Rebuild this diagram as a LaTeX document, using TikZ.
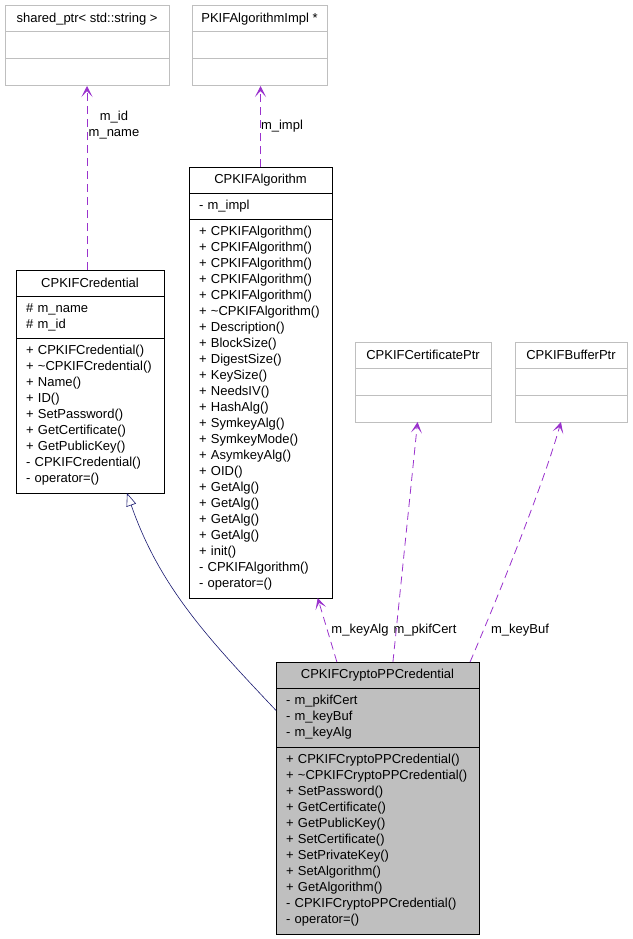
\documentclass[tikz,border=0pt]{standalone}
\usepackage{fontspec}
\setmainfont{Liberation Sans}
\usetikzlibrary{positioning,arrows.meta,calc}
\definecolor{edgepurple}{HTML}{9A32CD}
\definecolor{edgenavy}{HTML}{191970}
\definecolor{boxgray}{HTML}{BFBFBF}

\begin{document}
\begin{tikzpicture}[x=1pt, y=-1pt,
    every node/.style={font=\fontsize{13}{16}\selectfont, outer sep=0pt},
    title/.style={draw, line width=1pt, minimum width=#1, minimum height=26pt,
      inner sep=0pt, anchor=north west},
    part/.style 2 args={draw, line width=1pt, minimum width=#1, text width={#1-20pt},
      minimum height=#2, inner xsep=10pt, inner ysep=0pt, align=left},
    empty/.style={draw=boxgray},
    member/.style={edgepurple, line width=0.8pt, dash pattern=on 8pt off 5pt,
      -{Stealth[length=11pt, width=11pt, inset=6pt]}},
    inherit/.style={edgenavy, line width=0.6pt,
      -{Triangle[open, length=13pt, width=10pt, fill=white]}}]
  \useasboundingbox (0,0) rectangle (632,939);

  % classes without members
  \node[title=164pt, empty] (sptr) at (5,6) {shared\_ptr< std::string >};
  \node[part={164pt}{27pt}, empty, below=0pt of sptr] (sptrAttr) {};
  \node[part={164pt}{27pt}, empty, below=0pt of sptrAttr] (sptrOps) {};

  \node[title=135pt, empty] (impl) at (192,6) {PKIFAlgorithmImpl *};
  \node[part={135pt}{27pt}, empty, below=0pt of impl] (implAttr) {};
  \node[part={135pt}{27pt}, empty, below=0pt of implAttr] (implOps) {};

  \node[title=136pt, empty] (certp) at (355,342) {CPKIFCertificatePtr};
  \node[part={136pt}{27pt}, empty, below=0pt of certp] (certpAttr) {};
  \node[part={136pt}{27pt}, empty, below=0pt of certpAttr] (certpOps) {};

  \node[title=112pt, empty] (bufp) at (515,342) {CPKIFBufferPtr};
  \node[part={112pt}{27pt}, empty, below=0pt of bufp] (bufpAttr) {};
  \node[part={112pt}{27pt}, empty, below=0pt of bufpAttr] (bufpOps) {};

  % CPKIFAlgorithm
  \node[title=143pt] (alg) at (189,167) {CPKIFAlgorithm};
  \node[part={143pt}{26pt}, below=0pt of alg] (algAttr) {- m\_impl};
  \node[part={143pt}{379pt}, below=0pt of algAttr] (algOps) {+ CPKIFAlgorithm()\\
    + CPKIFAlgorithm()\\+ CPKIFAlgorithm()\\+ CPKIFAlgorithm()\\+ CPKIFAlgorithm()\\
    + \textasciitilde CPKIFAlgorithm()\\+ Description()\\+ BlockSize()\\+ DigestSize()\\
    + KeySize()\\+ NeedsIV()\\+ HashAlg()\\+ SymkeyAlg()\\+ SymkeyMode()\\+ AsymkeyAlg()\\
    + OID()\\+ GetAlg()\\+ GetAlg()\\+ GetAlg()\\+ GetAlg()\\+ init()\\
    - CPKIFAlgorithm()\\- operator=()};

  % CPKIFCredential
  \node[title=148pt] (cred) at (16,270) {CPKIFCredential};
  \node[part={148pt}{42pt}, below=0pt of cred] (credAttr) {\# m\_name\\\# m\_id};
  \node[part={148pt}{155pt}, below=0pt of credAttr] (credOps) {+ CPKIFCredential()\\
    + \textasciitilde CPKIFCredential()\\+ Name()\\+ ID()\\+ SetPassword()\\
    + GetCertificate()\\+ GetPublicKey()\\- CPKIFCredential()\\- operator=()};

  % CPKIFCryptoPPCredential
  \node[title=203pt, fill=boxgray] (cpp) at (276,662) {CPKIFCryptoPPCredential};
  \node[part={203pt}{59pt}, fill=boxgray, below=0pt of cpp] (cppAttr) {- m\_pkifCert\\
    - m\_keyBuf\\- m\_keyAlg};
  \node[part={203pt}{187pt}, fill=boxgray, below=0pt of cppAttr] (cppOps) {+ CPKIFCryptoPPCredential()\\
    + \textasciitilde CPKIFCryptoPPCredential()\\+ SetPassword()\\+ GetCertificate()\\
    + GetPublicKey()\\+ SetCertificate()\\+ SetPrivateKey()\\+ SetAlgorithm()\\
    + GetAlgorithm()\\- CPKIFCryptoPPCredential()\\- operator=()};

  % labels
  \node[align=center] (lblId) at (114,125) {m\_id\\m\_name};
  \node (lblImpl) at (282,126) {m\_impl};
  \node (lblKeyAlg) at (360,630) {m\_keyAlg};
  \node (lblCert) at (425,630) {m\_pkifCert};
  \node (lblBuf) at (520,630) {m\_keyBuf};

  % connectors
  \draw[member] (cred.north -| sptrOps.south) -- (sptrOps.south);
  \draw[member] (alg.north) -- (alg.north |- implOps.south);
  \draw[member] ($(cpp.north west)!0.3!(cpp.north east)$)
    -- ($(algOps.south west)!0.9!(algOps.south east)$);
  \draw[member] ($(cpp.north west)!0.576!(cpp.north east)$)
    -- ($(certpOps.south west)!0.46!(certpOps.south east)$);
  \draw[member] ($(cpp.north west)!0.956!(cpp.north east)$)
    .. controls +(35,-82) and +(-16,57) .. ($(bufpOps.south west)!0.41!(bufpOps.south east)$);
  \draw[inherit] ($(cppAttr.north west)!0.38!(cppAttr.south west)$)
    .. controls +(-66,-70) and +(33,95) .. ($(credOps.south west)!0.75!(credOps.south east)$);
\end{tikzpicture}
\end{document}
